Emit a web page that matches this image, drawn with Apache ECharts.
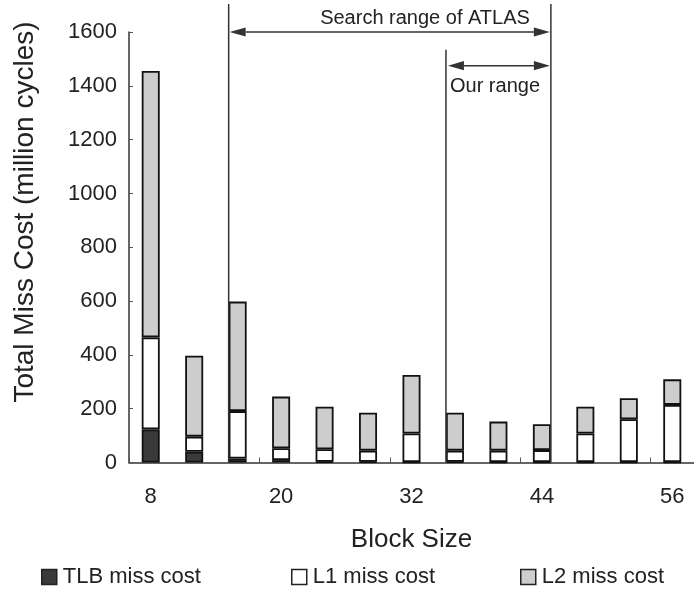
<!DOCTYPE html>
<html>
<head>
<meta charset="utf-8">
<script src="https://cdn.jsdelivr.net/npm/echarts@6/dist/echarts.min.js"></script>
<style>
  html, body { margin: 0; padding: 0; background: #ffffff; }
  #chart { width: 694px; height: 590px; }
</style>
</head>
<body>
<div id="chart"></div>
<script>
// ---- data ----
const categories = ['8', '12', '16', '20', '24', '28', '32', '36', '40', '44', '48', '52', '56'];
const tlbMiss = [123, 40, 15, 9, 3, 3, 2, 3, 2, 2, 2, 2, 2];
const l1Miss  = [342, 56, 176, 44, 46, 41, 106, 41, 42, 44, 106, 159, 212];
const l2Miss  = [990, 301, 407, 192, 158, 141, 217, 141, 108, 96, 99, 78, 95];
const yTicks = [0, 200, 400, 600, 800, 1000, 1200, 1400, 1600];
const seriesNames = ['TLB miss cost', 'L1 miss cost', 'L2 miss cost'];
const searchRange = ['16', '44'];   // Search range of ATLAS
const ourRange = ['36', '44'];      // Our range
const searchArrowValue = 1600;
const ourArrowValue = 1475;

const FONT = 'Liberation Sans, Arial, Helvetica, sans-serif';
const TXT = '#222222';
const BAR_W = 18;

const chart = echarts.init(document.getElementById('chart'), null, { renderer: 'canvas' });

function barSeries(name, data, color) {
  return {
    name: name,
    type: 'bar',
    stack: 'total',
    data: data,
    barWidth: BAR_W,
    itemStyle: { color: color, borderColor: '#111111', borderWidth: 1.8 },
    emphasis: { disabled: true },
    animation: false
  };
}

function legendAt(name, left, color) {
  return {
    data: [name],
    left: left,
    top: 561,
    icon: 'rect',
    itemWidth: 15,
    itemHeight: 15,
    itemStyle: { color: color, borderColor: '#222222', borderWidth: 1.5 },
    textStyle: { fontFamily: FONT, fontSize: 22, color: TXT, padding: [0, 0, 0, 1] },
    selectedMode: false
  };
}

const option = {
  backgroundColor: '#ffffff',
  animation: false,
  grid: { left: 129, top: 32, width: 567, bottom: 127.5, containLabel: false },
  legend: [
    legendAt(seriesNames[0], 36, '#3a3a3a'),
    legendAt(seriesNames[1], 286, '#ffffff'),
    legendAt(seriesNames[2], 515, '#cdcdcd')
  ],
  xAxis: {
    type: 'category',
    data: categories,
    boundaryGap: true,
    name: 'Block Size',
    nameLocation: 'middle',
    nameGap: 64,
    nameTextStyle: { fontFamily: FONT, fontSize: 26, color: TXT },
    axisLine: { show: true, lineStyle: { color: '#333333', width: 1.5 } },
    axisTick: { show: true, inside: true, length: 5, interval: 2, alignWithLabel: false, lineStyle: { color: '#555555' } },
    axisLabel: { interval: 2, margin: 23, fontFamily: FONT, fontSize: 22, color: TXT }
  },
  yAxis: {
    type: 'value',
    min: yTicks[0],
    max: yTicks[yTicks.length - 1],
    interval: 200,
    axisLine: { show: true, lineStyle: { color: '#333333', width: 1.5 } },
    axisTick: { show: true, inside: true, length: 4, lineStyle: { color: '#555555' } },
    splitLine: { show: false },
    axisLabel: { margin: 12, fontFamily: FONT, fontSize: 22, color: TXT, formatter: function (v) { return String(v); } }
  },
  series: [
    barSeries(seriesNames[0], tlbMiss, '#3a3a3a'),
    barSeries(seriesNames[1], l1Miss, '#ffffff'),
    barSeries(seriesNames[2], l2Miss, '#cdcdcd')
  ]
};

chart.setOption(option);

// ---- annotations derived from the axes ----
function px(cat) { return chart.convertToPixel({ xAxisIndex: 0 }, cat); }
function py(v) { return chart.convertToPixel({ yAxisIndex: 0 }, v); }
const half = BAR_W / 2;
const baseY = py(0);
const xSearchL = px(searchRange[0]) - half;
const xSearchR = px(searchRange[1]) + half;
const xOurL = px(ourRange[0]) - half;
const xOurR = px(ourRange[1]) + half;
const ySearch = py(searchArrowValue);
const yOur = py(ourArrowValue);
const LC = '#333333';

function vline(x, y1, y2) {
  return { type: 'line', shape: { x1: x, y1: y1, x2: x, y2: y2 }, style: { stroke: LC, lineWidth: 1.5 }, z: 10 };
}
function arrow(x1, x2, y) {
  const L = 16, H = 4.6;
  return [
    { type: 'line', shape: { x1: x1 + L, y1: y, x2: x2 - L, y2: y }, style: { stroke: LC, lineWidth: 1.5 }, z: 10 },
    { type: 'polygon', shape: { points: [[x1, y], [x1 + L, y - H], [x1 + L, y + H]] }, style: { fill: LC }, z: 10 },
    { type: 'polygon', shape: { points: [[x2, y], [x2 - L, y - H], [x2 - L, y + H]] }, style: { fill: LC }, z: 10 }
  ];
}

const graphics = [
  vline(xSearchL, 4, baseY),
  vline(xSearchR, 4, baseY),
  vline(xOurL, yOur - 16, baseY)
]
  .concat(arrow(xSearchL + 1, xSearchR - 1, ySearch))
  .concat(arrow(xOurL + 2, xOurR - 1, yOur))
  .concat([
    { type: 'text', x: xSearchR - 21, y: ySearch - 14, z: 10,
      style: { text: 'Search range of ATLAS', fontFamily: FONT, fontSize: 20, fill: TXT, align: 'right', verticalAlign: 'middle' } },
    { type: 'text', x: xOurL + 4, y: yOur + 21, z: 10,
      style: { text: 'Our range', fontFamily: FONT, fontSize: 20, fill: TXT, align: 'left', verticalAlign: 'middle' } },
    { type: 'text', x: 25, y: 212, rotation: Math.PI / 2, z: 10,
      style: { text: 'Total Miss Cost (million cycles)', fontFamily: FONT, fontSize: 28, fill: TXT, align: 'center', verticalAlign: 'middle' } }
  ]);

chart.setOption({ graphic: graphics });
</script>
</body>
</html>
